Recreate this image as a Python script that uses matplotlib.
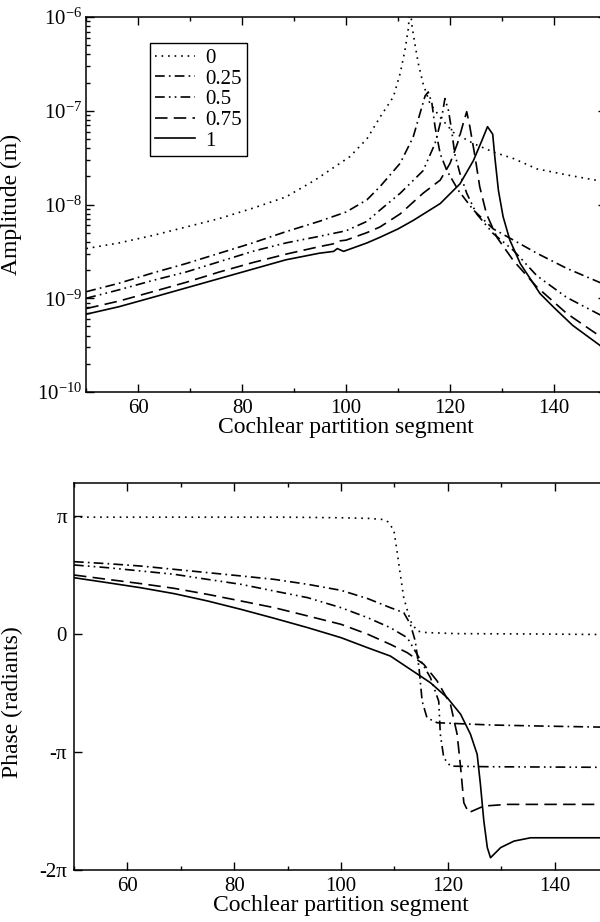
import numpy as np
import matplotlib
matplotlib.use('Agg')
import matplotlib.pyplot as plt
from matplotlib.ticker import MultipleLocator, LogLocator, FixedLocator, NullFormatter, FuncFormatter

plt.rcParams['font.family'] = ['Liberation Serif', 'DejaVu Serif']
plt.rcParams['mathtext.fontset'] = 'custom'
plt.rcParams['mathtext.rm'] = 'Liberation Serif'
plt.rcParams['mathtext.it'] = 'Liberation Serif:italic'
plt.rcParams['lines.scale_dashes'] = False

# legend labels
labels = ['0', '0.25', '0.5', '0.75', '1']

# amplitude curves, log10 of amplitude in m
amp_x_0 = [50, 56.3, 62.8, 69.2, 75.6, 82, 88.4, 94, 100.7, 104, 106.5, 109.1, 110.4, 111.3, 112, 112.3,
           112.6, 113.2, 113.9, 114.8, 116.1, 118.1, 120.6, 124.5, 128.3, 132.2, 136.7, 143, 150]
amp_log_0 = [-8.47, -8.41, -8.33, -8.24, -8.15, -8.04, -7.92, -7.74, -7.49, -7.3, -7.07, -6.85, -6.6, -6.36,
             -6.11, -5.8, -6.07, -6.28, -6.5, -6.71, -6.92, -7.07, -7.23, -7.35, -7.44, -7.51, -7.62, -7.69, -7.76]

amp_x_025 = [50, 56.3, 62.8, 69.2, 75.6, 82, 88.4, 94.8, 100, 104, 106.5, 110.4, 112.9, 114.2, 115.2, 115.8,
             116.5, 117.1, 118.1, 119.4, 121.6, 124.5, 128.3, 132.2, 136.7, 142.4, 150]
amp_log_025 = [-8.93, -8.84, -8.73, -8.63, -8.52, -8.41, -8.29, -8.18, -8.08, -7.95, -7.81, -7.56, -7.28, -7.03,
               -6.84, -6.8, -6.92, -7.17, -7.46, -7.64, -7.85, -8.06, -8.26, -8.38, -8.52, -8.68, -8.86]

amp_x_05 = [50, 56.3, 62.8, 69.2, 75.6, 82, 88.4, 94.8, 100, 104, 106.5, 110.4, 114.8, 117.1, 118.4, 119,
            119.7, 120.3, 120.9, 121.9, 123.2, 125.1, 128.3, 132.2, 136.7, 142.4, 150]
amp_log_05 = [-9.0, -8.91, -8.81, -8.72, -8.61, -8.5, -8.41, -8.34, -8.28, -8.18, -8.06, -7.88, -7.64, -7.35,
              -7.07, -6.87, -7.0, -7.21, -7.46, -7.67, -7.88, -8.1, -8.31, -8.49, -8.76, -8.99, -9.21]

amp_x_075 = [50, 56.3, 62.8, 69.2, 75.6, 82, 88.4, 94.8, 97.5, 98.5, 100, 104, 106.5, 110.4, 114.8, 118.1,
             120, 121.6, 122.5, 123.2, 123.8, 124.8, 125.7, 127, 129, 132.2, 136.7, 142.4, 150]
amp_log_075 = [-9.11, -9.03, -8.93, -8.83, -8.72, -8.62, -8.53, -8.45, -8.42, -8.39, -8.38, -8.3, -8.24, -8.1,
               -7.88, -7.74, -7.56, -7.32, -7.14, -7.01, -7.17, -7.49, -7.81, -8.1, -8.35, -8.6, -8.88, -9.16, -9.45]

amp_x_1 = [50, 56.3, 62.8, 69.2, 75.6, 82, 88.4, 94.8, 97.6, 98.3, 99.5, 100, 104, 106.5, 110, 112.9, 118.1,
           121.9, 124.5, 126.1, 127.2, 128.2, 128.6, 129.3, 130.2, 131.5, 133.5, 137.3, 140, 143.6, 150]
amp_log_1 = [-9.17, -9.09, -8.99, -8.89, -8.79, -8.69, -8.59, -8.52, -8.5, -8.47, -8.5, -8.49, -8.41, -8.35,
             -8.26, -8.17, -7.99, -7.78, -7.53, -7.32, -7.17, -7.25, -7.49, -7.85, -8.13, -8.38, -8.63, -8.95,
             -9.1, -9.29, -9.55]

# phase curves, in units of pi
ph_x_0 = [50, 70, 90, 100, 105, 108, 108.8, 109.9, 110.5, 111.1, 111.75, 113, 114.25, 116, 121.75, 136.75, 150]
ph_y_0 = [0.99, 0.99, 0.99, 0.985, 0.98, 0.97, 0.95, 0.88, 0.70, 0.506, 0.308, 0.11, 0.025, 0.012, 0.003,
          0.0, -0.005]

ph_x_025 = [50, 56.25, 62.5, 68.75, 75, 81.25, 87.5, 93.75, 100, 105, 109.25, 111.75, 113, 113.9, 114.6,
            115.2, 116.1, 118, 128, 137.4, 150]
ph_y_025 = [0.613, 0.596, 0.576, 0.548, 0.52, 0.492, 0.463, 0.421, 0.37, 0.3, 0.223, 0.181, 0.082, -0.059,
            -0.285, -0.57, -0.71, -0.752, -0.771, -0.78, -0.79]

ph_x_05 = [50, 56.25, 62.5, 68.75, 75, 81.25, 87.5, 93.75, 100, 104.9, 109.25, 112.4, 114.25, 116.75, 118.3,
           118.6, 119.25, 120.5, 128, 150]
ph_y_05 = [0.585, 0.562, 0.534, 0.506, 0.463, 0.421, 0.364, 0.308, 0.223, 0.14, 0.053, -0.031, -0.172, -0.37,
           -0.57, -0.85, -1.05, -1.12, -1.125, -1.13]

ph_x_075 = [50, 56.25, 62.5, 68.75, 75, 81.25, 87.5, 93.75, 100, 104.9, 109.25, 112.4, 115.5, 118, 120.5,
            121.75, 122.4, 123, 123.9, 126.75, 131.1, 150]
ph_y_075 = [0.5, 0.463, 0.427, 0.387, 0.336, 0.28, 0.223, 0.153, 0.082, 0.0, -0.088, -0.158, -0.257, -0.398,
            -0.596, -0.85, -1.13, -1.43, -1.514, -1.458, -1.444, -1.444]

ph_x_1 = [50, 56.25, 62.5, 68.75, 75, 81.25, 87.5, 93.75, 100, 104.9, 109.25, 113, 116.75, 119.9, 122.4,
          124.25, 125.5, 126.1, 126.75, 127.4, 128, 129.9, 132.4, 135.5, 150]
ph_y_1 = [0.477, 0.435, 0.392, 0.342, 0.28, 0.209, 0.133, 0.054, -0.031, -0.115, -0.187, -0.3, -0.413, -0.54,
          -0.68, -0.85, -1.02, -1.27, -1.585, -1.81, -1.896, -1.81, -1.755, -1.727, -1.727]

styles = [(0, (1.2, 3.5)),
          (0, (7, 3, 1.2, 3)),
          (0, (7, 3, 1.2, 3, 1.2, 3)),
          (0, (9, 4.5)),
          '-']

amp_x = [amp_x_0, amp_x_025, amp_x_05, amp_x_075, amp_x_1]
amp_log = [amp_log_0, amp_log_025, amp_log_05, amp_log_075, amp_log_1]
ph_x = [ph_x_0, ph_x_025, ph_x_05, ph_x_075, ph_x_1]
ph_y = [ph_y_0, ph_y_025, ph_y_05, ph_y_075, ph_y_1]

TICK_FS = 15
LABEL_FS = 17
lw = 1.2

fig = plt.figure(figsize=(6, 9.22), dpi=100)
ax1 = fig.add_axes([86.3 / 600, 1 - 392 / 922, (606 - 86.3) / 600, (392 - 17) / 922])
ax2 = fig.add_axes([74 / 600, 1 - 870 / 922, (608 - 74) / 600, (870 - 483) / 922])


def style_axis(ax):
    for s in ax.spines.values():
        s.set_linewidth(1.1)
    ax.tick_params(which='both', direction='in', top=True, right=True, labelsize=TICK_FS, width=1.0)
    ax.tick_params(which='major', length=6, pad=5)
    ax.tick_params(which='minor', length=3)
    ax.xaxis.set_major_locator(MultipleLocator(20))
    ax.xaxis.set_minor_locator(MultipleLocator(10))
    ax.set_xlim(50, 150)


for i in range(5):
    ax1.plot(amp_x[i], 10.0 ** np.array(amp_log[i]), color='black', lw=lw, linestyle=styles[i], label=labels[i])
ax1.set_yscale('log')
ax1.set_ylim(1e-10, 1e-6)
style_axis(ax1)
ax1.yaxis.set_major_locator(LogLocator(base=10, numticks=10))
ax1.yaxis.set_minor_locator(LogLocator(base=10, subs=np.arange(2, 10), numticks=20))
ax1.yaxis.set_minor_formatter(NullFormatter())
ax1.yaxis.set_major_formatter(FuncFormatter(lambda v, p: r'$10^{%d}$' % int(round(np.log10(v)))))
ax1.tick_params(axis='y', which='major', pad=3)
ax1.set_ylabel('Amplitude (m)', fontsize=LABEL_FS)
ax1.yaxis.set_label_coords(-0.124, 0.5)
ax1.set_xlabel('Cochlear partition segment', fontsize=LABEL_FS)
ax1.xaxis.set_label_coords(0.5, -0.066)
leg = ax1.legend(loc='upper left', bbox_to_anchor=(0.123, 0.93), borderaxespad=0, fontsize=15,
                 frameon=True, fancybox=False, edgecolor='black', framealpha=1,
                 handlelength=1.9, handletextpad=0.5, labelspacing=0.05, borderpad=0.25)
leg.get_frame().set_linewidth(1.0)

for i in range(5):
    ax2.plot(ph_x[i], np.array(ph_y[i]) * np.pi, color='black', lw=lw, linestyle=styles[i])
ax2.set_ylim(-2 * np.pi, 4.02)
style_axis(ax2)
ax2.yaxis.set_major_locator(FixedLocator([-2 * np.pi, -np.pi, 0, np.pi]))
ax2.set_yticklabels(['-2π', '-π', '0', 'π'])
ax2.set_ylabel('Phase (radiants)', fontsize=LABEL_FS)
ax2.yaxis.set_label_coords(-0.0955, 0.434)
ax2.set_xlabel('Cochlear partition segment', fontsize=LABEL_FS)
ax2.xaxis.set_label_coords(0.5, -0.064)

fig.savefig('out.png', dpi=100)
